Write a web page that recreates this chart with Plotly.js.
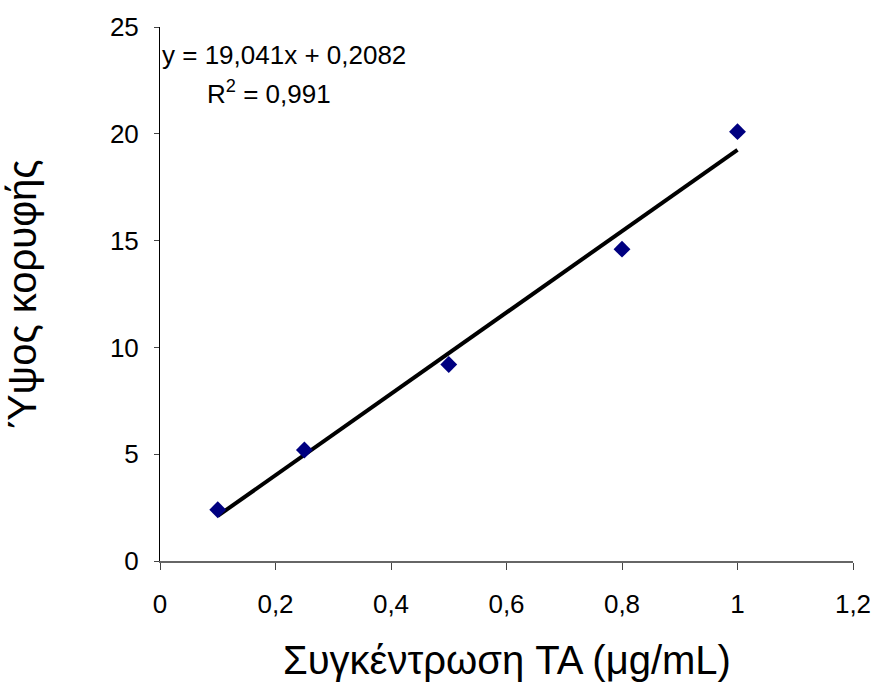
<!DOCTYPE html>
<html><head><meta charset="utf-8">
<script src="https://cdn.plot.ly/plotly-3.0.1.min.js"></script>
<style>html,body{margin:0;padding:0;background:#fff}#c{width:875px;height:682px}</style>
</head><body><div id="c"></div>
<script>
const concentration = [0.1, 0.25, 0.5, 0.8, 1.0];
const peakHeight = [2.4, 5.2, 9.2, 14.6, 20.1];
const slope = 19.041;
const intercept = 0.2082;
const xTickVals = [0, 0.2, 0.4, 0.6, 0.8, 1, 1.2];
const xTickText = ['0', '0,2', '0,4', '0,6', '0,8', '1', '1,2'];
const yTickVals = [0, 5, 10, 15, 20, 25];
const xTitle = 'Συγκέντρωση TA (μg/mL)';
const yTitle = 'Ύψος κορυφής';

const trendX = [concentration[0], concentration[concentration.length - 1]];
const trendY = trendX.map(x => slope * x + intercept);

const font = 'Arial, "Liberation Sans", sans-serif';
const data = [
  {x: trendX, y: trendY, mode: 'lines', line: {color: '#000', width: 4}, hoverinfo: 'skip'},
  {x: concentration, y: peakHeight, mode: 'markers', marker: {symbol: 'diamond', size: 13, color: '#000080'}}
];
const layout = {
  width: 875, height: 682, showlegend: false,
  paper_bgcolor: '#fff', plot_bgcolor: '#fff',
  margin: {l: 160, r: 22, t: 27, b: 121},
  font: {family: font, color: '#000', size: 24},
  xaxis: {range: [0, 1.2], tickvals: xTickVals, ticktext: xTickText, showgrid: false, zeroline: false,
    showline: true, linecolor: '#666', linewidth: 1.5, ticks: 'outside', ticklen: 7, tickcolor: '#444',
    ticklabelstandoff: 12, tickfont: {size: 26}},
  yaxis: {range: [0, 25], tickvals: yTickVals, showgrid: false, zeroline: false,
    showline: true, linecolor: '#000', linewidth: 1, ticks: 'outside', ticklen: 5, tickcolor: '#444',
    ticklabelstandoff: 10, tickfont: {size: 26},
    title: {text: yTitle, font: {size: 40}, standoff: 62}},
  annotations: [
    {xref: 'paper', yref: 'paper', x: 0.5, y: -0.186, xanchor: 'center', yanchor: 'middle', text: xTitle, showarrow: false, font: {size: 40}},
    {xref: 'paper', yref: 'paper', x: 0.179, y: 0.948, xanchor: 'center', yanchor: 'middle', text: 'y = 19,041x + 0,2082', showarrow: false, font: {size: 26}},
    {xref: 'paper', yref: 'paper', x: 0.158, y: 0.877, xanchor: 'center', yanchor: 'middle', text: 'R<sup>2</sup> = 0,991', showarrow: false, font: {size: 26}}
  ]
};
Plotly.newPlot('c', data, layout, {displayModeBar: false, staticPlot: true});
</script></body></html>
